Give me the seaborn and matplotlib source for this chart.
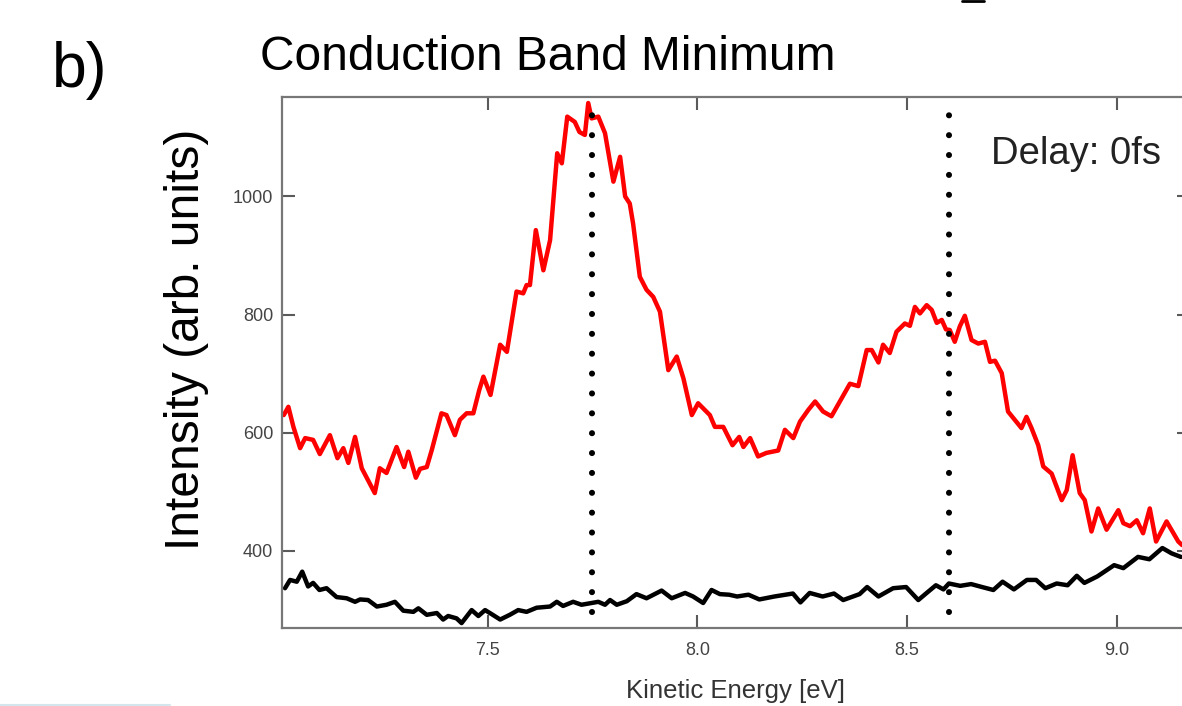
import matplotlib
matplotlib.use("Agg")
import matplotlib.pyplot as plt
import pandas as pd
import seaborn as sns
from matplotlib.lines import Line2D

# ---- data ----
energy_red = [7.014, 7.025, 7.037, 7.053, 7.065, 7.084, 7.100, 7.124, 7.142, 7.156,
              7.168, 7.184, 7.200, 7.231, 7.243, 7.259, 7.283, 7.301, 7.311, 7.329,
              7.339, 7.355, 7.367, 7.390, 7.402, 7.422, 7.434, 7.450, 7.466, 7.480,
              7.490, 7.507, 7.530, 7.546, 7.569, 7.585, 7.593, 7.601, 7.615, 7.633,
              7.649, 7.666, 7.677, 7.690, 7.708, 7.719, 7.732, 7.740, 7.748, 7.764,
              7.780, 7.800, 7.816, 7.828, 7.839, 7.847, 7.863, 7.879, 7.895, 7.911,
              7.931, 7.951, 7.967, 7.987, 8.002, 8.030, 8.042, 8.062, 8.084, 8.100,
              8.110, 8.126, 8.145, 8.165, 8.193, 8.209, 8.229, 8.245, 8.265, 8.281,
              8.300, 8.320, 8.344, 8.364, 8.384, 8.404, 8.416, 8.432, 8.443, 8.459,
              8.475, 8.495, 8.507, 8.519, 8.531, 8.547, 8.559, 8.571, 8.583, 8.593,
              8.602, 8.614, 8.626, 8.638, 8.654, 8.670, 8.686, 8.698, 8.710, 8.726,
              8.741, 8.757, 8.773, 8.785, 8.797, 8.813, 8.825, 8.845, 8.869, 8.881,
              8.895, 8.912, 8.924, 8.940, 8.956, 8.976, 9.004, 9.016, 9.032, 9.048,
              9.063, 9.079, 9.094, 9.119, 9.147, 9.156]
intensity_red = [630, 644, 610, 574, 591, 588, 564, 596, 557, 574,
                 549, 593, 540, 498, 540, 532, 576, 542, 568, 524,
                 539, 542, 571, 633, 630, 596, 622, 633, 633, 672,
                 695, 664, 749, 737, 839, 836, 850, 850, 943, 875,
                 926, 1073, 1056, 1135, 1126, 1109, 1104, 1158, 1132, 1135,
                 1107, 1025, 1067, 1000, 988, 954, 864, 842, 830, 805,
                 706, 729, 692, 630, 650, 630, 610, 610, 579, 593,
                 576, 591, 560, 566, 570, 605, 591, 619, 639, 653,
                 636, 628, 658, 683, 679, 740, 740, 719, 749, 735,
                 771, 785, 781, 813, 802, 816, 808, 786, 791, 775,
                 774, 754, 780, 798, 757, 751, 754, 720, 722, 701,
                 636, 622, 608, 627, 608, 579, 543, 531, 486, 503,
                 562, 498, 486, 433, 472, 436, 469, 447, 442, 452,
                 430, 472, 416, 450, 416, 410]

energy_black = [7.017, 7.029, 7.045, 7.058, 7.072, 7.084, 7.099, 7.116, 7.140, 7.164,
                7.184, 7.196, 7.215, 7.236, 7.259, 7.279, 7.299, 7.323, 7.335, 7.355,
                7.379, 7.394, 7.406, 7.426, 7.438, 7.462, 7.478, 7.494, 7.510, 7.530,
                7.553, 7.573, 7.593, 7.617, 7.649, 7.665, 7.680, 7.704, 7.724, 7.748,
                7.764, 7.780, 7.792, 7.808, 7.832, 7.855, 7.879, 7.915, 7.939, 7.971,
                7.990, 8.014, 8.034, 8.054, 8.076, 8.095, 8.122, 8.148, 8.184, 8.228,
                8.246, 8.268, 8.299, 8.326, 8.348, 8.387, 8.405, 8.432, 8.467, 8.498,
                8.527, 8.547, 8.569, 8.587, 8.600, 8.627, 8.653, 8.679, 8.706, 8.728,
                8.755, 8.786, 8.808, 8.830, 8.857, 8.883, 8.905, 8.923, 8.954, 8.994,
                9.016, 9.051, 9.078, 9.109, 9.131, 9.153]
intensity_black = [337, 351, 348, 365, 340, 346, 334, 337, 322, 320,
                   314, 318, 317, 306, 309, 314, 299, 297, 303, 292,
                   295, 284, 290, 286, 278, 300, 290, 300, 293, 284,
                   292, 300, 297, 304, 306, 314, 307, 314, 309, 312,
                   314, 309, 317, 309, 315, 327, 320, 333, 320, 329,
                   323, 312, 334, 327, 326, 323, 326, 318, 323, 328,
                   313, 329, 323, 328, 317, 327, 339, 323, 337, 339,
                   317, 329, 342, 335, 345, 341, 344, 339, 334, 348,
                   335, 351, 351, 337, 345, 342, 358, 346, 357, 376,
                   371, 390, 386, 405, 396, 390]

marker_energies = [7.75, 8.6]
x_ticks = [7.5, 8.0, 8.5, 9.0]
x_tick_labels = ["7.5", "8.0", "8.5", "9.0"]
y_ticks = [400, 600, 800, 1000]
y_tick_labels = ["400", "600", "800", "1000"]

title_text = "Conduction Band Minimum"
panel_label = "b)"
delay_text = "Delay: 0fs"
x_label = "Kinetic Energy [eV]"
y_label = "Intensity (arb. units)"

# ---- style ----
sns.set_style("white")
plt.rcParams['font.family'] = ['Liberation Sans', 'DejaVu Sans']
plt.rcParams.update({
    "xtick.bottom": True, "xtick.top": True,
    "ytick.left": True, "ytick.right": True,
    "xtick.direction": "in", "ytick.direction": "in",
})

fig = plt.figure(figsize=(11.82, 7.06), dpi=100)
ax = fig.add_axes([0.2383, 0.1105, 0.7685, 0.7525])

df_black = pd.DataFrame({"energy": energy_black, "intensity": intensity_black})
df_red = pd.DataFrame({"energy": energy_red, "intensity": intensity_red})

sns.lineplot(data=df_black, x="energy", y="intensity", color="black",
             linewidth=3.2, sort=False, estimator=None, ax=ax)
sns.lineplot(data=df_red, x="energy", y="intensity", color="#ff0000",
             linewidth=3.2, sort=False, estimator=None, ax=ax)

for e in marker_energies:
    ax.axvline(e, ymin=0.03, ymax=0.99, color="black", linewidth=4.4,
               linestyle=(0, (0.001, 3.25)), dash_capstyle="round", zorder=5)

ax.set_xlim(7.009, 9.175)
ax.set_ylim(269.7, 1168.7)
ax.set_xticks(x_ticks)
ax.set_xticklabels(x_tick_labels)
ax.set_yticks(y_ticks)
ax.set_yticklabels(y_tick_labels)

ax.tick_params(axis="both", which="major", direction="in", length=9.5, width=1.5,
               color="#5a5a5a", labelsize=13, labelcolor="#444444",
               top=True, right=True, bottom=True, left=True)
ax.tick_params(axis="x", pad=9.8)
ax.tick_params(axis="y", pad=6)

for s in ax.spines.values():
    s.set_color("#777777")
    s.set_linewidth(1.6)
    s.set_visible(True)

ax.set_xlabel(x_label, fontsize=18.5, color="#333333", va="center")
ax.xaxis.set_label_coords(0.5, -0.1186)
ax.set_ylabel(y_label, fontsize=34.5, color="black", va="center", ha="center")
ax.yaxis.set_label_coords(-0.1053, 0.544)

fig.text(260 / 1182, 1 - 70 / 706, title_text, fontsize=34.5, color="black",
         ha="left", va="baseline")
fig.text(52 / 1182, 1 - 87 / 706, panel_label, fontsize=45, color="black",
         ha="left", va="baseline")
fig.text(991 / 1182, 1 - 163.5 / 706, delay_text, fontsize=27.5, color="#222222",
         ha="left", va="baseline")

# small screenshot remnants at the edges
fig.add_artist(Line2D([0, 170 / 1182], [1.5 / 706, 1.5 / 706], transform=fig.transFigure,
                      color="#d3e6ee", linewidth=1.5))
fig.add_artist(Line2D([962 / 1182, 984 / 1182], [1 - 1 / 706, 1 - 1 / 706],
                      transform=fig.transFigure, color="black", linewidth=2))

fig.savefig("out.png", dpi=100)
